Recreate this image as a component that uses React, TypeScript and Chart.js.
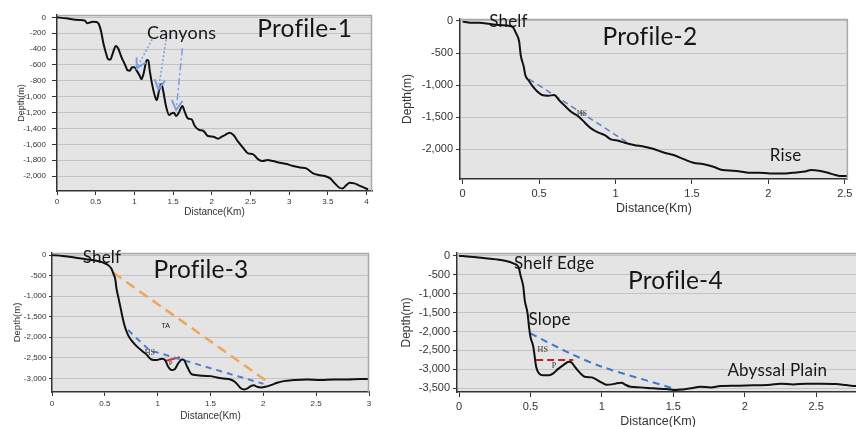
import React, { useEffect, useRef } from "react";
import { Chart, registerables } from "chart.js";

Chart.register(...registerables);

// ---------------- Profile-1 ----------------
const p1Km = [0, 0.12, 0.19, 0.29, 0.36, 0.39, 0.42, 0.46, 0.51, 0.54, 0.57, 0.6, 0.64, 0.66, 0.69, 0.72, 0.76, 0.79, 0.83, 0.88, 0.91, 0.94, 0.97, 1.0, 1.03, 1.07, 1.09, 1.12, 1.16, 1.18, 1.2, 1.24, 1.28, 1.29, 1.32, 1.35, 1.37, 1.41, 1.45, 1.48, 1.51, 1.54, 1.58, 1.62, 1.65, 1.69, 1.74, 1.78, 1.84, 1.89, 1.95, 2.02, 2.08, 2.13, 2.17, 2.23, 2.28, 2.34, 2.41, 2.47, 2.53, 2.6, 2.66, 2.72, 2.79, 2.88, 2.97, 3.05, 3.14, 3.22, 3.31, 3.38, 3.46, 3.53, 3.59, 3.65, 3.69, 3.74, 3.78, 3.84, 3.89, 3.96, 4.02];
const p1Depth = [0, -13, -25, -34, -42, -75, -67, -55, -59, -84, -180, -330, -475, -530, -530, -455, -360, -390, -495, -600, -665, -672, -630, -630, -672, -740, -780, -705, -538, -546, -685, -895, -1034, -1042, -916, -840, -916, -1126, -1231, -1210, -1202, -1244, -1189, -1118, -1189, -1273, -1286, -1370, -1420, -1429, -1496, -1504, -1529, -1504, -1483, -1454, -1483, -1567, -1651, -1714, -1723, -1790, -1811, -1798, -1811, -1832, -1849, -1874, -1891, -1903, -1966, -1987, -2000, -2029, -2092, -2147, -2155, -2113, -2084, -2092, -2113, -2143, -2168];
const p1XTicks = [0, 0.5, 1, 1.5, 2, 2.5, 3, 3.5, 4];
const p1YTicks = [0, -200, -400, -600, -800, -1000, -1200, -1400, -1600, -1800, -2000];
const p1ArrowStartKm = [1.23, 1.41, 1.62];
const p1ArrowStartDepth = [-277, -277, -391];
const p1ArrowEndKm = [1.03, 1.31, 1.54];
const p1ArrowEndDepth = [-643, -908, -1168];
const p1Labels = ["Canyons", "Profile-1"];
const p1LabelKm = [1.61, 3.2];
const p1LabelDepth = [-191, -135];

// ---------------- Profile-2 ----------------
const p2Km = [0, 0.05, 0.11, 0.18, 0.24, 0.31, 0.33, 0.35, 0.37, 0.38, 0.4, 0.41, 0.43, 0.46, 0.49, 0.52, 0.56, 0.6, 0.63, 0.67, 0.71, 0.76, 0.8, 0.84, 0.89, 0.93, 0.97, 1.02, 1.06, 1.12, 1.19, 1.25, 1.32, 1.38, 1.45, 1.51, 1.57, 1.64, 1.7, 1.77, 1.83, 1.88, 1.94, 2.01, 2.07, 2.11, 2.18, 2.24, 2.28, 2.33, 2.39, 2.44, 2.48, 2.52];
const p2Depth = [-10, -26, -26, -47, -62, -78, -99, -192, -322, -530, -712, -842, -920, -1023, -1101, -1153, -1164, -1153, -1231, -1325, -1413, -1491, -1584, -1673, -1740, -1777, -1844, -1865, -1896, -1932, -1958, -1995, -2052, -2088, -2156, -2208, -2229, -2270, -2322, -2332, -2348, -2364, -2364, -2374, -2374, -2374, -2358, -2343, -2322, -2332, -2364, -2400, -2416, -2416];
const p2XTicks = [0, 0.5, 1, 1.5, 2, 2.5];
const p2YTicks = [0, -500, -1000, -1500, -2000];
const p2HsKm = [0.435, 1.08];
const p2HsDepth = [-904, -1896];
const p2Labels = ["Shelf", "Profile-2", "Rise", "HS"];
const p2LabelKm = [0.3, 1.225, 2.113, 0.78];
const p2LabelDepth = [8, -231, -2079, -1433];

// ---------------- Profile-3 ----------------
const p3Km = [0, 0.1, 0.2, 0.32, 0.42, 0.48, 0.53, 0.56, 0.58, 0.6, 0.61, 0.63, 0.65, 0.67, 0.69, 0.72, 0.75, 0.8, 0.85, 0.89, 0.94, 0.99, 1.04, 1.07, 1.1, 1.13, 1.16, 1.19, 1.23, 1.25, 1.28, 1.32, 1.37, 1.43, 1.5, 1.56, 1.62, 1.69, 1.73, 1.76, 1.79, 1.82, 1.85, 1.88, 1.91, 1.94, 1.98, 2.02, 2.07, 2.13, 2.19, 2.29, 2.41, 2.54, 2.67, 2.79, 2.92, 3.0];
const p3Depth = [0, -24, -57, -105, -138, -178, -243, -324, -446, -608, -811, -1054, -1298, -1541, -1744, -1946, -2068, -2214, -2328, -2409, -2539, -2555, -2522, -2555, -2717, -2798, -2782, -2652, -2539, -2555, -2717, -2895, -2920, -2936, -2944, -2976, -3001, -3025, -3082, -3163, -3244, -3268, -3244, -3187, -3163, -3203, -3220, -3203, -3163, -3106, -3066, -3041, -3025, -3041, -3025, -3025, -3017, -3017];
const p3XTicks = [0, 0.5, 1, 1.5, 2, 2.5, 3];
const p3YTicks = [0, -500, -1000, -1500, -2000, -2500, -3000];
const p3TaKm = [0.58, 2.03];
const p3TaDepth = [-430, -3060];
const p3HsKm = [0.72, 0.92, 2.0];
const p3HsDepth = [-1825, -2311, -3130];
const p3PKm = [1.07, 1.21];
const p3PDepth = [-2575, -2485];
const p3Labels = ["Shelf", "Profile-3", "TA", "HS", "P"];
const p3LabelKm = [0.473, 1.41, 1.077, 0.925, 1.124];
const p3LabelDepth = [-41, -352, -1701, -2350, -2601];

// ---------------- Profile-4 ----------------
const p4Km = [0, 0.08, 0.17, 0.26, 0.33, 0.38, 0.41, 0.42, 0.43, 0.45, 0.46, 0.48, 0.49, 0.5, 0.52, 0.53, 0.54, 0.56, 0.59, 0.63, 0.66, 0.69, 0.73, 0.77, 0.79, 0.81, 0.85, 0.88, 0.93, 0.96, 1.0, 1.03, 1.07, 1.1, 1.14, 1.16, 1.2, 1.27, 1.36, 1.45, 1.52, 1.57, 1.62, 1.69, 1.76, 1.83, 1.94, 2.06, 2.18, 2.25, 2.34, 2.43, 2.53, 2.64, 2.71, 2.78, 2.85];
const p4Depth = [0, -26, -62, -97, -141, -202, -264, -334, -510, -818, -1170, -1522, -1873, -2137, -2401, -2665, -2929, -3105, -3157, -3157, -3105, -2999, -2885, -2797, -2823, -2929, -3105, -3193, -3210, -3263, -3351, -3404, -3395, -3369, -3351, -3395, -3457, -3474, -3500, -3518, -3544, -3527, -3500, -3457, -3474, -3439, -3430, -3421, -3404, -3378, -3395, -3378, -3378, -3386, -3413, -3439, -3450];
const p4XTicks = [0, 0.5, 1, 1.5, 2, 2.5];
const p4YTicks = [0, -500, -1000, -1500, -2000, -2500, -3000, -3500];
const p4HsKm = [0.5, 0.78, 1.0, 1.5];
const p4HsDepth = [-2050, -2580, -2930, -3500];
const p4PKm = [0.54, 0.8];
const p4PDepth = [-2750, -2750];
const p4Labels = ["Shelf Edge", "Slope", "Abyssal Plain", "Profile-4", "HS", "P"];
const p4LabelKm = [0.667, 0.634, 2.228, 1.515, 0.586, 0.665];
const p4LabelDepth = [-201, -1675, -3024, -641, -2470, -2884];

// ---------------- rendering ----------------
type Ann = { xs: number[]; ys: number[]; color: string; width: number; dash: number[]; arrow?: boolean; tension?: number };
type Txt = { text: string; x: number; y: number; size: number; family: string; color: string };
type Spec = {
  left: number; top: number; width: number; height: number;
  yAxisWidth: number; xAxisHeight: number; padTop: number; padRight: number;
  xMin: number; xMax: number; yMin: number; yMax: number;
  xTicks: number[]; yTicks: number[];
  tickSize: number;
  yTickLen: number; yTickPad: number; xTickLen: number; xTickPad: number;
  yTitleSize: number; yTitlePad: number; xTitleSize: number; xTitlePad: number;
  km: number[]; depth: number[];
  anns: Ann[]; texts: Txt[];
};

const BIG = "Lato";
const SMALL = "Liberation Serif";
const AXIS = "Liberation Sans";

function mkTexts(labels: string[], xs: number[], ys: number[], sizes: number[], fams: string[]): Txt[] {
  return labels.map((t, i) => ({ text: t, x: xs[i], y: ys[i], size: sizes[i], family: fams[i], color: fams[i] === SMALL ? "#333" : "#161616" }));
}

function ProfileChart({ s }: { s: Spec }) {
  const ref = useRef<HTMLCanvasElement | null>(null);
  useEffect(() => {
    const canvas = ref.current;
    if (!canvas) return;
    const deco = {
      id: "deco",
      beforeDraw(chart: any) {
        const { ctx, chartArea: a } = chart;
        ctx.save();
        ctx.fillStyle = "#e4e4e4";
        ctx.fillRect(a.left, a.top, a.right - a.left, a.bottom - a.top);
        ctx.restore();
      },
      afterDatasetsDraw(chart: any) {
        const { ctx, chartArea: a } = chart;
        const xs = chart.scales.x, ys = chart.scales.y;
        ctx.save();
        ctx.strokeStyle = "#a9a9a9";
        ctx.lineWidth = 1.5;
        ctx.beginPath();
        ctx.moveTo(a.left, a.top + 0.5);
        ctx.lineTo(a.right - 0.5, a.top + 0.5);
        ctx.lineTo(a.right - 0.5, a.bottom);
        ctx.stroke();
        s.anns.forEach((an) => {
          if (!an.arrow) return;
          const n = an.xs.length;
          const x0 = xs.getPixelForValue(an.xs[n - 2]);
          const y0 = ys.getPixelForValue(an.ys[n - 2]);
          const x1 = xs.getPixelForValue(an.xs[n - 1]);
          const y1 = ys.getPixelForValue(an.ys[n - 1]);
          const ang = Math.atan2(y1 - y0, x1 - x0);
          const L = 11, spread = 0.5;
          ctx.strokeStyle = an.color;
          ctx.lineWidth = 2;
          ctx.setLineDash([]);
          ctx.beginPath();
          ctx.moveTo(x1 - L * Math.cos(ang - spread), y1 - L * Math.sin(ang - spread));
          ctx.lineTo(x1, y1);
          ctx.lineTo(x1 - L * Math.cos(ang + spread), y1 - L * Math.sin(ang + spread));
          ctx.stroke();
        });
        ctx.restore();
      },
      afterDraw(chart: any) {
        const { ctx } = chart;
        const xs = chart.scales.x, ys = chart.scales.y;
        ctx.save();
        s.texts.forEach((t) => {
          ctx.font = `${t.size}px "${t.family}"`;
          ctx.fillStyle = t.color;
          ctx.textAlign = "center";
          ctx.textBaseline = "alphabetic";
          try { (ctx as any).letterSpacing = t.family === BIG ? "0.2px" : "0px"; } catch (e) {}
          const px = xs.getPixelForValue(t.x);
          const py = ys.getPixelForValue(t.y) + t.size * 0.36;
          ctx.fillText(t.text, px, py);
        });
        ctx.restore();
      },
    };
    const chart = new Chart(canvas, {
      type: "line",
      data: {
        datasets: [
          {
            data: s.km.map((x, i) => ({ x, y: s.depth[i] })),
            borderColor: "#111",
            borderWidth: 2,
            pointRadius: 0,
            cubicInterpolationMode: "monotone",
            fill: false,
          },
          ...s.anns.map((an) => ({
            data: an.xs.map((x, i) => ({ x, y: an.ys[i] })),
            borderColor: an.color,
            borderWidth: an.width,
            borderDash: an.dash,
            pointRadius: 0,
            tension: an.tension ?? 0,
            fill: false,
          })),
        ],
      },
      options: {
        responsive: false,
        animation: false,
        events: [],
        layout: { padding: { top: s.padTop, right: s.padRight, left: 0, bottom: 0 } },
        plugins: { legend: { display: false }, tooltip: { enabled: false } },
        scales: {
          x: {
            type: "linear",
            min: s.xMin,
            max: s.xMax,
            afterFit: (sc: any) => { sc.height = s.xAxisHeight; },
            afterBuildTicks: (sc: any) => { sc.ticks = s.xTicks.map((v) => ({ value: v })); },
            grid: { drawOnChartArea: false, drawTicks: true, tickLength: s.xTickLen, tickColor: "#333", tickWidth: 1 },
            border: { color: "#333", width: 1.5 },
            ticks: {
              autoSkip: false, maxRotation: 0, padding: s.xTickPad, color: "#333",
              font: { family: AXIS, size: s.tickSize },
              callback: (v: any) => String(v),
            },
            title: {
              display: true, text: "Distance(Km)", color: "#333",
              font: { family: AXIS, size: s.xTitleSize },
              padding: { top: 0, bottom: s.xTitlePad },
            },
          },
          y: {
            type: "linear",
            min: s.yMin,
            max: s.yMax,
            afterFit: (sc: any) => { sc.width = s.yAxisWidth; },
            afterBuildTicks: (sc: any) => { sc.ticks = s.yTicks.map((v) => ({ value: v })); },
            grid: { color: "#c3c3c3", lineWidth: 1, drawTicks: true, tickLength: s.yTickLen, tickColor: "#333" },
            border: { color: "#333", width: 1.5 },
            ticks: {
              autoSkip: false, padding: s.yTickPad, color: "#333",
              font: { family: AXIS, size: s.tickSize },
              callback: (v: any) => Number(v).toLocaleString("en-US"),
            },
            title: {
              display: true, text: "Depth(m)", color: "#333",
              font: { family: AXIS, size: s.yTitleSize },
              padding: { top: s.yTitlePad, bottom: 0 },
            },
          },
        },
      } as any,
      plugins: [deco],
    });
    return () => chart.destroy();
  }, [s]);
  return (
    <div style={{ position: "absolute", left: s.left, top: s.top, width: s.width, height: s.height }}>
      <canvas ref={ref} width={s.width} height={s.height} style={{ width: s.width, height: s.height, display: "block" }} />
    </div>
  );
}

const ARROW = "#7b9ee0";

const spec1: Spec = {
  left: 0, top: 0, width: 380, height: 222,
  yAxisWidth: 57, xAxisHeight: 31, padTop: 15, padRight: 8,
  xMin: 0, xMax: 4.07, yMin: -2188, yMax: 29,
  xTicks: p1XTicks, yTicks: p1YTicks, tickSize: 8,
  yTickLen: 5, yTickPad: 6, xTickLen: 4, xTickPad: 2,
  yTitleSize: 9, yTitlePad: 16.6, xTitleSize: 10, xTitlePad: 4,
  km: p1Km, depth: p1Depth,
  anns: p1ArrowStartKm.map((x, i) => ({
    xs: [x, p1ArrowEndKm[i]], ys: [p1ArrowStartDepth[i], p1ArrowEndDepth[i]],
    color: ARROW, width: 1.5, dash: i === 2 ? [7, 3, 2, 3] : [2, 2], arrow: true,
  })),
  texts: mkTexts(p1Labels, p1LabelKm, p1LabelDepth, [18, 24.5], [BIG, BIG]),
};

const spec2: Spec = {
  left: 390, top: 0, width: 466, height: 222,
  yAxisWidth: 70, xAxisHeight: 43, padTop: 19, padRight: 3,
  xMin: -0.017, xMax: 2.52, yMin: -2461, yMax: 31,
  xTicks: p2XTicks, yTicks: p2YTicks, tickSize: 11,
  yTickLen: 4, yTickPad: 3, xTickLen: 5, xTickPad: 3.5,
  yTitleSize: 12, yTitlePad: 10.8, xTitleSize: 12.5, xTitlePad: 5.5,
  km: p2Km, depth: p2Depth,
  anns: [{ xs: p2HsKm, ys: p2HsDepth, color: "#5a7fc8", width: 1.5, dash: [6, 4] }],
  texts: mkTexts(p2Labels, p2LabelKm, p2LabelDepth, [17, 24.5, 17, 8], [BIG, BIG, BIG, SMALL]),
};

const spec3: Spec = {
  left: 0, top: 222, width: 380, height: 205,
  yAxisWidth: 52, xAxisHeight: 35, padTop: 31, padRight: 11,
  xMin: 0, xMax: 3.0, yMin: -3330, yMax: 49,
  xTicks: p3XTicks, yTicks: p3YTicks, tickSize: 8,
  yTickLen: 3, yTickPad: 2.5, xTickLen: 4, xTickPad: 2.5,
  yTitleSize: 9.5, yTitlePad: 11.3, xTitleSize: 10, xTitlePad: 5,
  km: p3Km, depth: p3Depth,
  anns: [
    { xs: p3TaKm, ys: p3TaDepth, color: "#eea55c", width: 2.5, dash: [10, 6] },
    { xs: p3HsKm, ys: p3HsDepth, color: "#4f7fd0", width: 2, dash: [6, 5] },
    { xs: p3PKm, ys: p3PDepth, color: "#e02828", width: 2, dash: [] },
  ],
  texts: mkTexts(p3Labels, p3LabelKm, p3LabelDepth, [17, 24.5, 7, 8, 7], [BIG, BIG, AXIS, SMALL, SMALL]),
};

const spec4: Spec = {
  left: 390, top: 222, width: 470, height: 215,
  yAxisWidth: 67, xAxisHeight: 45, padTop: 31, padRight: 1,
  xMin: -0.014, xMax: 2.8, yMin: -3596, yMax: 71,
  xTicks: p4XTicks, yTicks: p4YTicks, tickSize: 11,
  yTickLen: 4, yTickPad: 3, xTickLen: 5, xTickPad: 3.7,
  yTitleSize: 12, yTitlePad: 9.8, xTitleSize: 12.5, xTitlePad: 7.5,
  km: p4Km, depth: p4Depth,
  anns: [
    { xs: p4HsKm, ys: p4HsDepth, color: "#3f78d0", width: 2, dash: [7, 5], tension: 0.3 },
    { xs: p4PKm, ys: p4PDepth, color: "#c42020", width: 2, dash: [7, 4] },
  ],
  texts: mkTexts(p4Labels, p4LabelKm, p4LabelDepth, [17, 17, 17, 24.5, 8, 8], [BIG, BIG, BIG, BIG, SMALL, SMALL]),
};

export default function App() {
  return (
    <div style={{ position: "fixed", left: 0, top: 0, width: 856, height: 427, overflow: "hidden", background: "#fff" }}>
      <ProfileChart s={spec1} />
      <ProfileChart s={spec2} />
      <ProfileChart s={spec3} />
      <ProfileChart s={spec4} />
    </div>
  );
}
